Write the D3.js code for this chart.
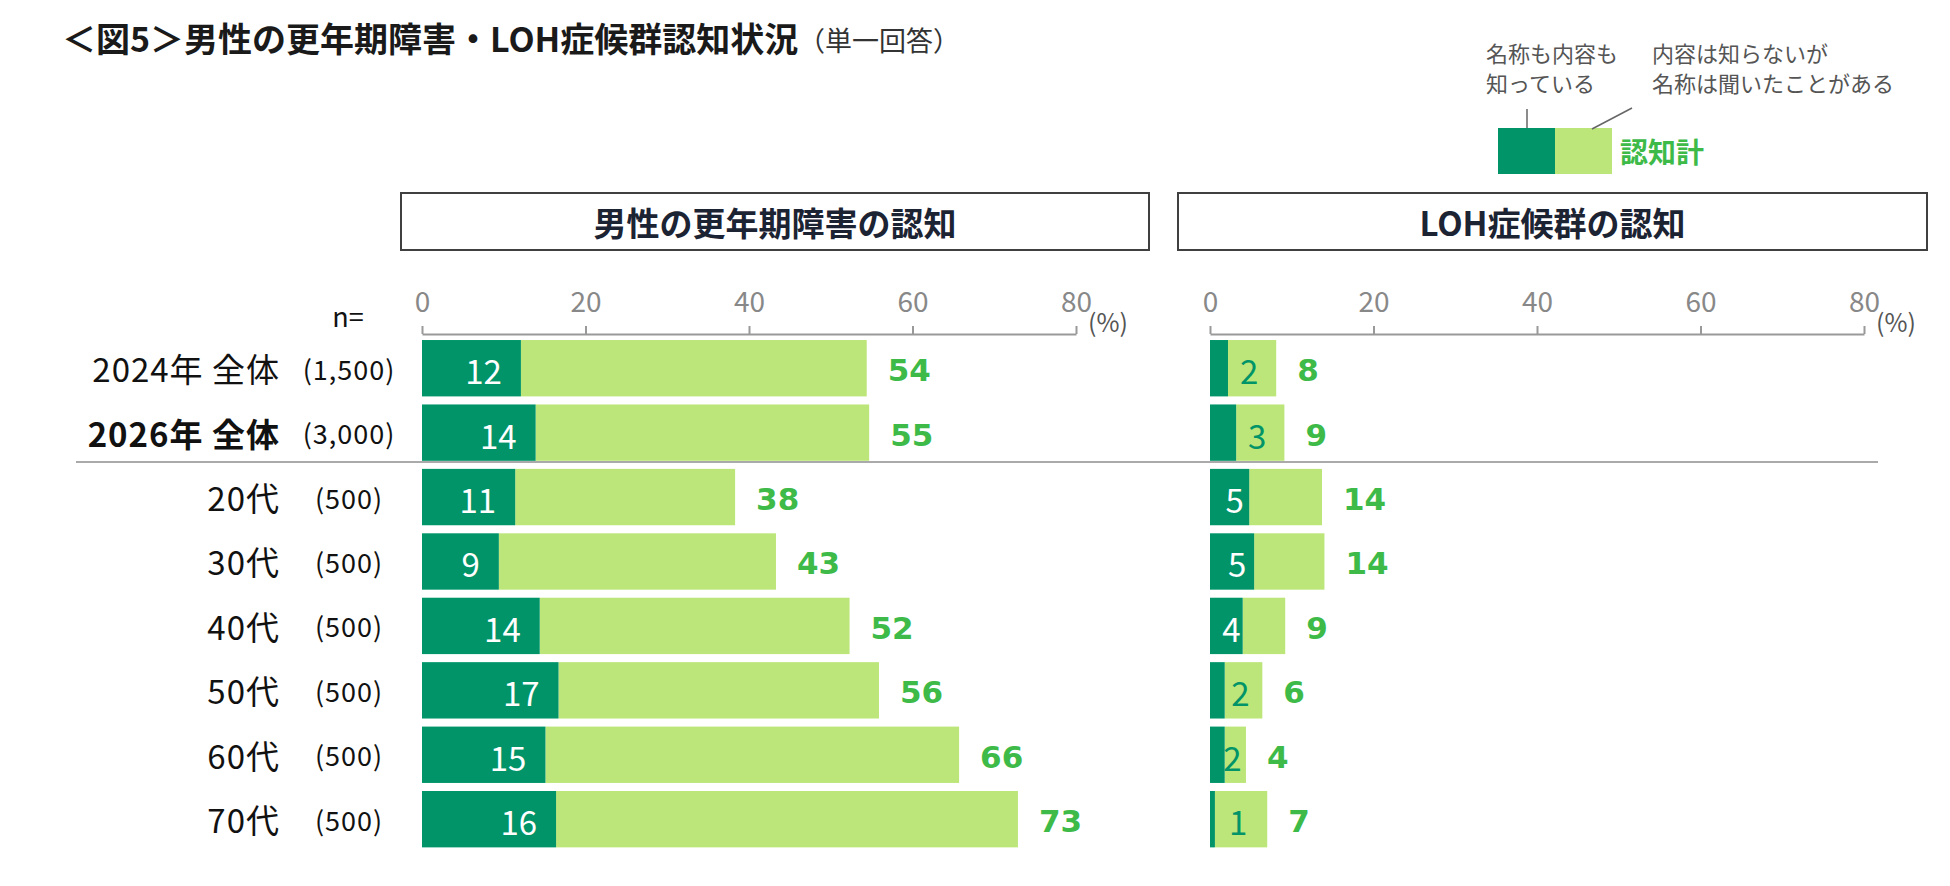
<!DOCTYPE html>
<meta charset="utf-8">
<head>
  <title>男性の更年期障害・LOH症候群認知状況</title>
</head>
<style>
body {
  margin: 0;
  background: #fff;
  font-family: "Noto Sans CJK JP", "Noto Sans", sans-serif;
}
svg text { font-family: "Noto Sans CJK JP", "Noto Sans", sans-serif; }
.axis path, .axis line { stroke: #999; stroke-width: 2px; }
.axis text { fill: #888; font-size: 28px; }
.total { font-family: "DejaVu Sans", Verdana, sans-serif !important; font-weight: bold; fill: #3dba48; font-size: 31px; }
</style>
<body>
<svg width="1950" height="886"></svg>
<script src="https://cdnjs.cloudflare.com/ajax/libs/d3/7.8.5/d3.min.js"></script>
<script>
// rows
var categories = ["2024年 全体", "2026年 全体", "20代", "30代", "40代", "50代", "60代", "70代"];
var sampleSizes = ["(1,500)", "(3,000)", "(500)", "(500)", "(500)", "(500)", "(500)", "(500)"];

// 男性の更年期障害の認知 (%)
var climKnowBoth = [12.1, 13.9, 11.4, 9.4, 14.4, 16.7, 15.1, 16.4];
var climTotal = [54.4, 54.7, 38.3, 43.3, 52.3, 55.9, 65.7, 72.9];

// LOH症候群の認知 (%)
var lohKnowBoth = [2.2, 3.2, 4.8, 5.4, 4.0, 1.8, 1.8, 0.6];
var lohTotal = [8.1, 9.1, 13.7, 14.0, 9.2, 6.4, 4.4, 7.0];

var ticks = [0, 20, 40, 60, 80];

var darkGreen = "#009468";
var lightGreen = "#bde67a";

var svg = d3.select("svg");

var y = d3.scaleBand()
  .domain(categories)
  .range([336, 851.4])
  .paddingInner(0.125)
  .paddingOuter(0.0625);

// title
svg.append("text")
  .attr("x", 62).attr("y", 37)
  .attr("dominant-baseline", "central")
  .style("font-size", "34px").style("font-weight", "bold").style("fill", "#1a1a1a")
  .text("＜図5＞男性の更年期障害・LOH症候群認知状況");
svg.append("text")
  .attr("x", 798).attr("y", 39)
  .attr("dominant-baseline", "central")
  .style("font-size", "27px").style("fill", "#333")
  .text("（単一回答）");

// legend
var lg = svg.append("g");
lg.append("rect").attr("x", 1498).attr("y", 128).attr("width", 57).attr("height", 46).attr("fill", darkGreen);
lg.append("rect").attr("x", 1555).attr("y", 128).attr("width", 57).attr("height", 46).attr("fill", lightGreen);
lg.append("line").attr("x1", 1527).attr("y1", 109).attr("x2", 1527).attr("y2", 128)
  .attr("stroke", "#666").attr("stroke-width", 1.5);
lg.append("line").attr("x1", 1632).attr("y1", 108).attr("x2", 1592).attr("y2", 129)
  .attr("stroke", "#666").attr("stroke-width", 1.5);
[["名称も内容も", "知っている", 1486], ["内容は知らないが", "名称は聞いたことがある", 1652]].forEach(function(l) {
  var t = lg.append("text").attr("y", 62)
    .style("font-size", "22px").style("fill", "#555");
  t.append("tspan").attr("x", l[2]).text(l[0]);
  t.append("tspan").attr("x", l[2]).attr("dy", 30).text(l[1]);
});
lg.append("text").attr("x", 1620).attr("y", 151).attr("dominant-baseline", "central")
  .style("font-size", "28px").style("font-weight", "bold").style("fill", "#3dba48")
  .text("認知計");

// row labels
svg.append("text").attr("x", 348).attr("y", 315).attr("text-anchor", "middle")
  .attr("dominant-baseline", "central").style("font-size", "27px").style("fill", "#111")
  .text("n=");

svg.selectAll(".rowlabel")
  .data(categories)
  .enter().append("text")
  .attr("class", "rowlabel")
  .attr("x", 280)
  .attr("y", function(d) { return y(d) + y.bandwidth() / 2; })
  .attr("text-anchor", "end")
  .attr("dominant-baseline", "central")
  .style("font-size", "33px")
  .style("letter-spacing", "1px")
  .style("fill", "#111")
  .style("font-weight", function(d, i) { return i == 1 ? "bold" : "normal"; })
  .text(function(d) { return d; });

svg.selectAll(".nlabel")
  .data(sampleSizes)
  .enter().append("text")
  .attr("class", "nlabel")
  .attr("x", 349)
  .attr("y", function(d, i) { return y(categories[i]) + y.bandwidth() / 2; })
  .attr("text-anchor", "middle")
  .attr("dominant-baseline", "central")
  .style("font-size", "27px")
  .style("letter-spacing", "1px")
  .style("fill", "#111")
  .text(function(d) { return d; });

// separator between totals and age groups
svg.append("line")
  .attr("x1", 76).attr("x2", 1878)
  .attr("y1", 462).attr("y2", 462)
  .attr("stroke", "#aaa").attr("stroke-width", 2);

function drawPanel(title, boxX, boxW, x0, both, total, smallInner) {
  var x = d3.scaleLinear().domain([0, 80]).range([x0, x0 + 654]);
  var g = svg.append("g");

  g.append("rect")
    .attr("x", boxX).attr("y", 193).attr("width", boxW).attr("height", 57)
    .attr("fill", "none").attr("stroke", "#404040").attr("stroke-width", 2);
  g.append("text")
    .attr("x", boxX + boxW / 2).attr("y", 222)
    .attr("text-anchor", "middle").attr("dominant-baseline", "central")
    .style("font-size", "33px").style("font-weight", "bold").style("fill", "#1c2333")
    .text(title);

  g.append("g")
    .attr("class", "axis")
    .attr("transform", "translate(0,334)")
    .call(d3.axisTop(x).tickValues(ticks).tickSize(8).tickSizeOuter(0).tickPadding(14));

  g.append("text")
    .attr("x", x(80) + 12).attr("y", 321)
    .attr("dominant-baseline", "central")
    .style("font-size", "25px").style("fill", "#555")
    .text("(%)");

  var rows = g.selectAll(".row")
    .data(categories)
    .enter().append("g")
    .attr("class", "row");

  rows.append("rect")
    .attr("x", function(d, i) { return x(both[i]); })
    .attr("y", function(d) { return y(d); })
    .attr("width", function(d, i) { return x(total[i]) - x(both[i]); })
    .attr("height", y.bandwidth())
    .attr("fill", lightGreen);

  rows.append("rect")
    .attr("x", x(0))
    .attr("y", function(d) { return y(d); })
    .attr("width", function(d, i) { return x(both[i]) - x(0); })
    .attr("height", y.bandwidth())
    .attr("fill", darkGreen);

  rows.append("text")
    .attr("x", function(d, i) {
      if (!smallInner) return x(both[i]) - 19;
      if (both[i] >= 3.5) return (x(0) + x(both[i])) / 2 + 5;
      return (x(both[i]) + x(total[i])) / 2 - 3;
    })
    .attr("y", function(d) { return y(d) + y.bandwidth() / 2 + 2; })
    .attr("text-anchor", smallInner ? "middle" : "end")
    .attr("dominant-baseline", "central")
    .style("font-size", "33px")
    .style("fill", function(d, i) { return (!smallInner || both[i] >= 3.5) ? "#fff" : darkGreen; })
    .text(function(d, i) { return Math.round(both[i]); });

  rows.append("text")
    .attr("class", "total")
    .attr("x", function(d, i) { return x(total[i]) + 21; })
    .attr("y", function(d) { return y(d) + y.bandwidth() / 2 + 2; })
    .attr("dominant-baseline", "central")
    .text(function(d, i) { return Math.round(total[i]); });
}

drawPanel("男性の更年期障害の認知", 401, 748, 422, climKnowBoth, climTotal, false);
drawPanel("LOH症候群の認知", 1178, 749, 1210, lohKnowBoth, lohTotal, true);
</script>
</body>
</html>
